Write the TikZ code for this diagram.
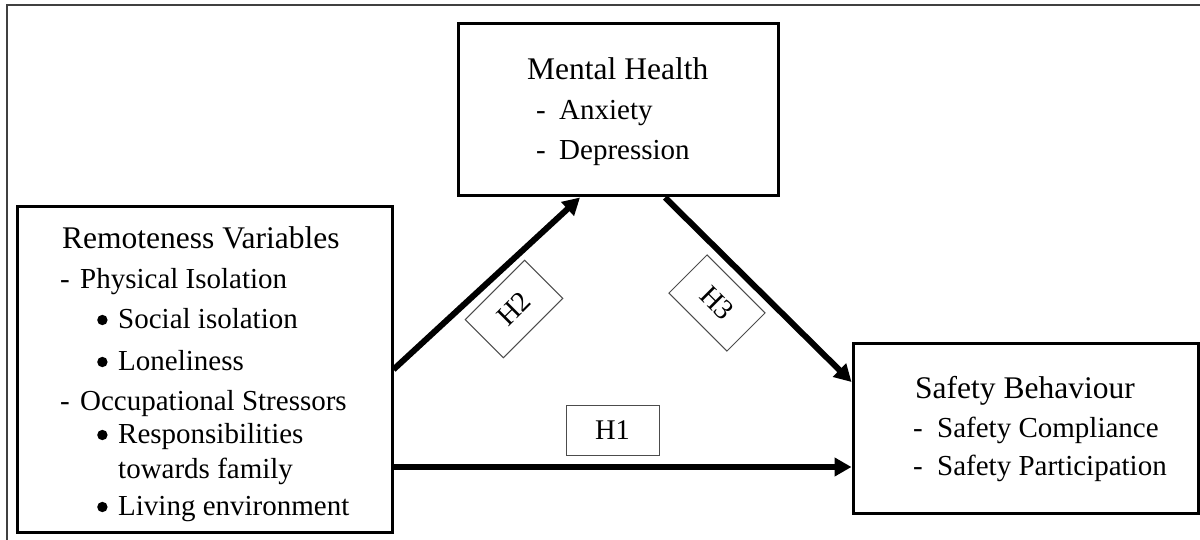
\documentclass[tikz,border=0pt]{standalone}
\usepackage{fontspec}
\setmainfont{Liberation Serif}
\usepackage{tikz}
\usetikzlibrary{arrows.meta, positioning, calc}
\newcommand{\titlefont}{\fontsize{31.5}{40}\selectfont}
\newcommand{\dotmark}{\tikz[baseline=0pt]\fill (0pt,8pt) circle (5.2pt);}
\newcommand{\dashitem}[1]{\makebox[20pt][l]{-}#1}
\newcommand{\bulitem}[1]{\hspace*{37pt}\makebox[21pt][l]{\dotmark}#1}

\begin{document}
\begin{tikzpicture}[x=1pt, y=-1pt,
    box/.style={rectangle, draw=black, line width=3pt, inner sep=0pt},
    boxtext/.style={anchor=base west, inner sep=0pt, align=left,
                    font=\fontsize{29}{40}\selectfont},
    hyp/.style={rectangle, draw=black!70, line width=1pt, inner sep=0pt,
                minimum width=84pt, minimum height=54pt,
                font=\fontsize{28.5}{34}\selectfont},
    link/.style={-{Triangle[length=17pt, width=18pt]}, line width=6pt, black}
]
\useasboundingbox (0,0) rectangle (1200,540);
\draw[line width=2pt, black!75] (1200,5) -- (7,5) -- (7,540);

% the three constructs
\node[box, minimum width=375pt, minimum height=325pt] (remote) at (204.5,369.5) {};
\node[box, minimum width=320pt, minimum height=172pt] (mental) at (618,110) {};
\node[box, minimum width=345pt, minimum height=170pt] (safety) at (1025.5,428) {};

% text blocks, anchored on their last baseline
\node[boxtext] (remote-txt) at (60,515) {%
    \hspace*{2pt}{\titlefont Remoteness Variables}\\
    \dashitem{Physical Isolation}\\
    \bulitem{Social isolation}\\[2pt]
    \bulitem{Loneliness}\\
    \dashitem{Occupational Stressors}\\[-7pt]
    \bulitem{Responsibilities}\\[-5pt]
    \hspace*{58pt}towards family\\[-3pt]
    \bulitem{Living environment}};
\node[boxtext] (mental-txt) at (527,160) {%
    {\titlefont Mental Health}\\
    \hspace*{9pt}\makebox[23pt][l]{-}Anxiety\\
    \hspace*{9pt}\makebox[23pt][l]{-}Depression};
\node[boxtext] (safety-txt) at (913,475) {%
    \hspace*{2pt}{\titlefont Safety Behaviour}\\[-1pt]
    \makebox[24pt][l]{-}Safety Compliance\\[-2pt]
    \makebox[24pt][l]{-}Safety Participation};

% hypothesised paths
\coordinate (h1from) at ([yshift=-97.5pt]remote.east);
\draw[link] (remote.east) -- ([xshift=-38pt]mental.south);
\draw[link] ([xshift=47pt]mental.south) -- ([yshift=46pt]safety.west);
\draw[link] (h1from) -- (h1from -| safety.west);

\node[hyp, minimum width=93pt, minimum height=50pt] (h1) at (612.5,430) {H1};
\node[hyp, rotate=45] (h2) at (514,309) {H2};
\node[hyp, rotate=-45, minimum width=82pt] (h3) at (717,303) {H3};
\end{tikzpicture}
\end{document}
